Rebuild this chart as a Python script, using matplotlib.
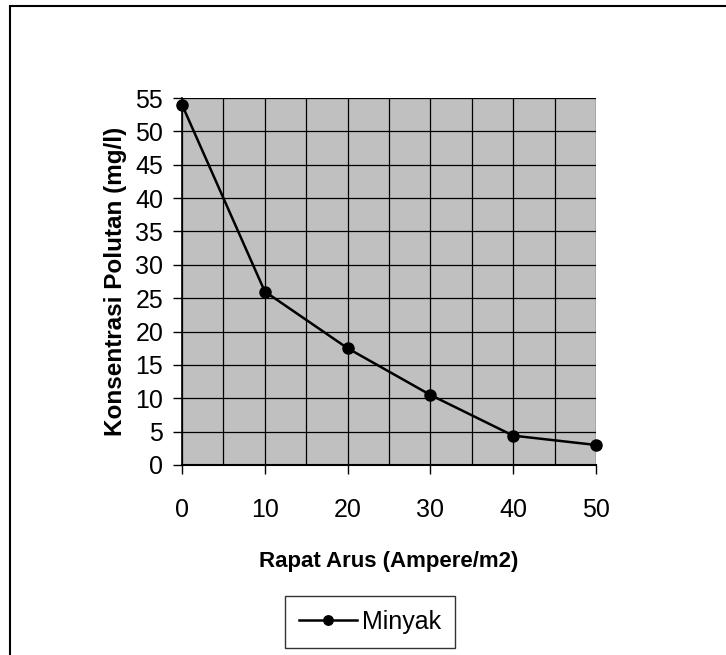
import matplotlib
matplotlib.use("Agg")
import matplotlib.pyplot as plt
from matplotlib.patches import Rectangle
from matplotlib.ticker import MultipleLocator

x_vals = [0, 10, 20, 30, 40, 50]
minyak = [54, 26, 17.5, 10.5, 4.4, 3.0]
x_ticks = [0, 10, 20, 30, 40, 50]
y_ticks = [0, 5, 10, 15, 20, 25, 30, 35, 40, 45, 50, 55]
series_label = "Minyak"
xlabel = "Rapat Arus (Ampere/m2)"
ylabel = "Konsentrasi Polutan (mg/l)"

plt.rcParams['font.family'] = ['Liberation Sans', 'DejaVu Sans']

W, H = 726, 655
fig = plt.figure(figsize=(W/100, H/100), dpi=100)

# outer chart border
fig.patches.append(Rectangle((10/W, -0.1), 1.2, (H-6)/H + 0.1, transform=fig.transFigure,
                             fill=False, edgecolor='black', linewidth=1.5))

ax = fig.add_axes([182/W, 1-465/H, (596-182)/W, (465-98)/H])
ax.set_facecolor('#C0C0C0')
ax.plot(x_vals, minyak, color='black', linewidth=1.8, marker='o', markersize=8,
        markerfacecolor='black', markeredgecolor='black', label=series_label, zorder=5,
        clip_on=False)

ax.set_xlim(0, 50)
ax.set_ylim(0, 55)
ax.set_xticks(x_ticks)
ax.set_yticks(y_ticks)
ax.xaxis.set_minor_locator(MultipleLocator(5))
ax.grid(True, which='both', axis='x', color='black', linewidth=0.9)
ax.grid(True, which='major', axis='y', color='black', linewidth=0.9)
ax.set_axisbelow(True)
ax.tick_params(axis='x', which='minor', length=0)
ax.tick_params(axis='x', which='major', direction='out', length=6.5, width=1, pad=17, labelsize=18)
ax.tick_params(axis='y', which='major', direction='out', length=6.5, width=1, pad=7, labelsize=18)

for s in ['top', 'right']:
    ax.spines[s].set_visible(False)
ax.spines['left'].set_linewidth(1.2)
ax.spines['bottom'].set_linewidth(1.5)

ax.set_xlabel(xlabel, fontsize=16, fontweight='bold', labelpad=21)
ax.set_ylabel(ylabel, fontsize=17.5, fontweight='bold', labelpad=6)

leg = fig.legend(loc='center', bbox_to_anchor=(370/W, 1-622/H), fontsize=18,
                 frameon=True, fancybox=False, edgecolor='black', borderpad=0.55,
                 handlelength=2.3, handletextpad=0.2, markerscale=0.85)
leg.get_frame().set_linewidth(1.0)

fig.savefig('out.png', dpi=100)
